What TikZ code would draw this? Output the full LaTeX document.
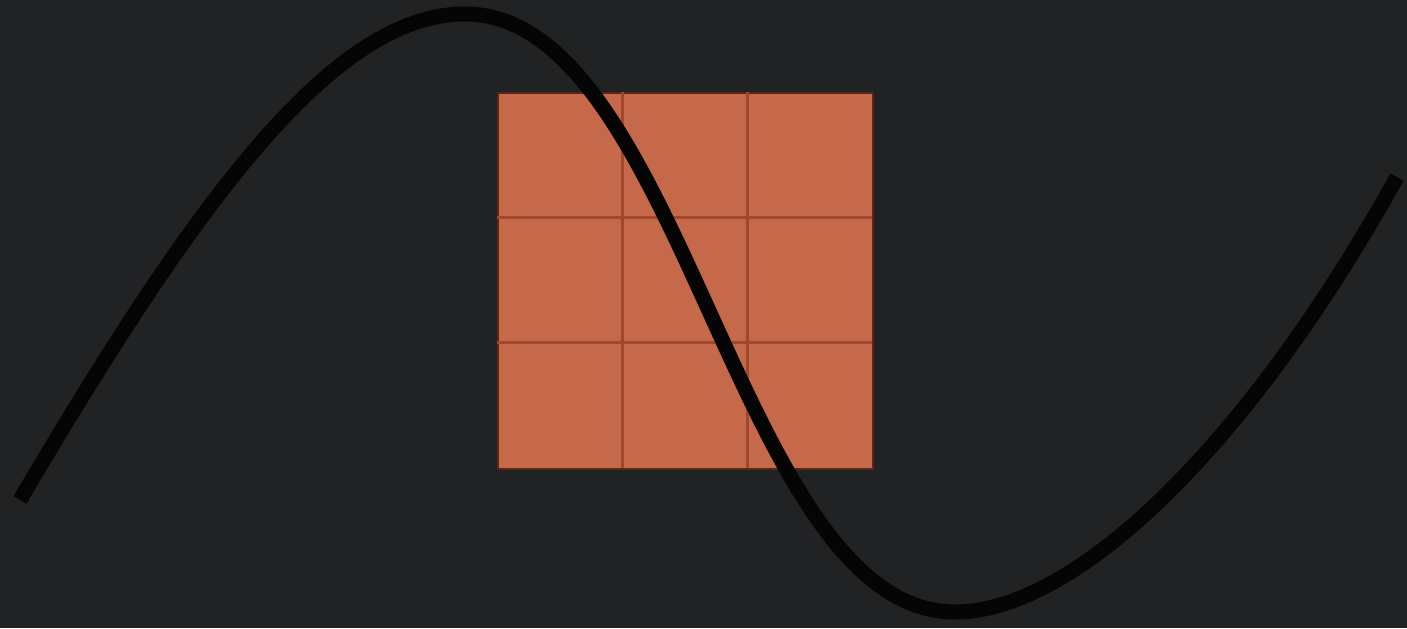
\documentclass[tikz,border=0pt]{standalone}
\definecolor{bgc}{HTML}{212224}
\definecolor{tile}{HTML}{C6694A}
\definecolor{tileline}{HTML}{A2472B}
\definecolor{curvec}{HTML}{050505}
\tikzset{
  tilegrid/.style={draw=tileline, line width=0.15cm},
  wave/.style={draw=curvec, line width=0.75cm, line cap=butt, line join=round}
}
\begin{document}
\begin{tikzpicture}[x=0.05cm,y=-0.05cm]
\fill[bgc] (0,0) rectangle (1407,628);
\useasboundingbox (0,0) rectangle (1407,628);
\node[draw=tileline!55!black, line width=0.1cm, fill=tile, minimum width=18.75cm, minimum height=18.8cm, inner sep=0pt, anchor=north west] (sq) at (497,92) {};
\draw[tilegrid] (622,92) -- (622,468);
\draw[tilegrid] (747,92) -- (747,468);
\draw[tilegrid] (497,217) -- (872,217);
\draw[tilegrid] (497,342) -- (872,342);
\coordinate (s) at (20,500);
\coordinate (p) at (465,14);
\coordinate (t) at (955,612);
\coordinate (e) at (1397,177);
\draw[wave] (s) .. controls (200,194) and (335,14) .. (p)
  .. controls (683,14) and (737,612) .. (t)
  .. controls (1075,612) and (1247,447) .. (e);
\end{tikzpicture}
\end{document}
